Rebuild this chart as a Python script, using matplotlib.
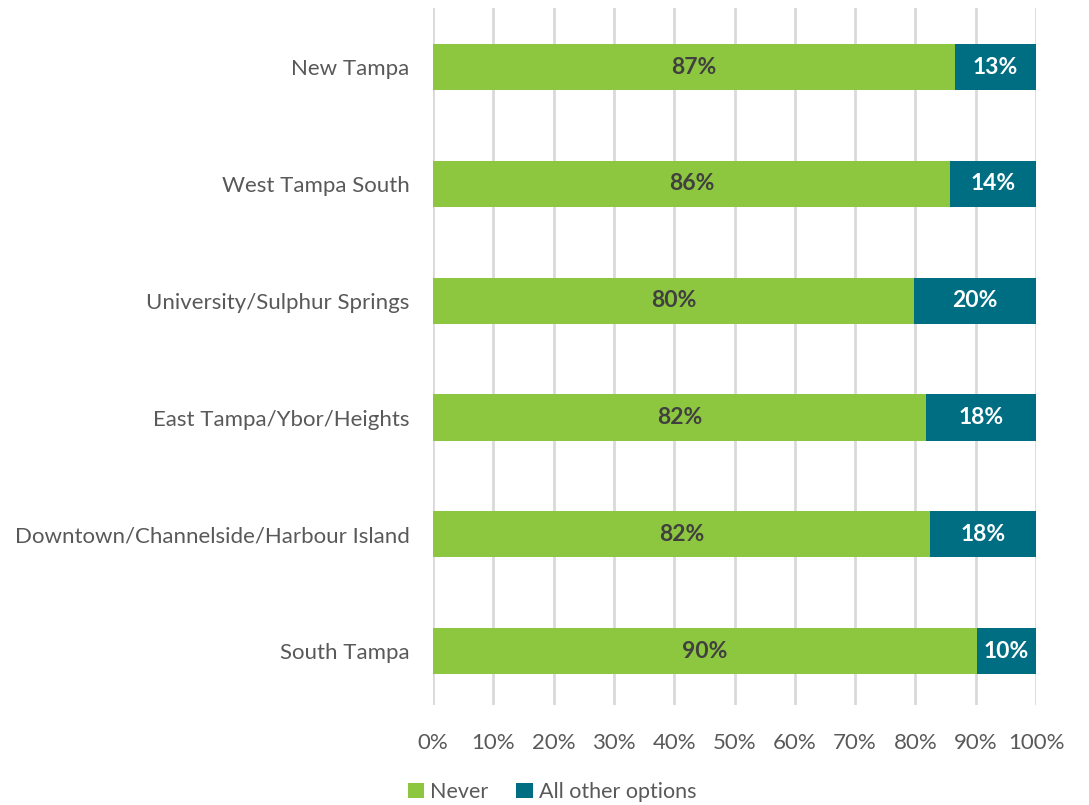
import matplotlib
matplotlib.use('Agg')
import matplotlib.pyplot as plt
import numpy as np

plt.rcParams['font.family'] = ['Lato', 'DejaVu Sans']

# data (bottom to top)
regions = ['South Tampa', 'Downtown/Channelside/Harbour Island', 'East Tampa/Ybor/Heights',
           'University/Sulphur Springs', 'West Tampa South', 'New Tampa']
never = [90.2, 82.4, 81.8, 79.8, 85.7, 86.6]
never_labels = ['90%', '82%', '82%', '80%', '86%', '87%']
other_labels = ['10%', '18%', '18%', '20%', '14%', '13%']
other = [100 - v for v in never]

green = '#8DC63F'
teal = '#006E82'
grey = '#595959'

fig = plt.figure(figsize=(10.89, 8.05), dpi=100)
ax = fig.add_axes([433 / 1089, 1 - 705 / 805, 603 / 1089, 697 / 805])

y = np.arange(len(regions))
ax.barh(y, never, height=0.395, color=green, label='Never', zorder=3)
ax.barh(y, other, left=never, height=0.395, color=teal, label='All other options', zorder=3)

for i in range(len(regions)):
    ax.text(never[i] / 2, y[i], never_labels[i], ha='center', va='center',
            fontsize=16.5, fontweight='bold', color='#404040', zorder=4)
    ax.text(never[i] + other[i] / 2, y[i], other_labels[i], ha='center', va='center',
            fontsize=16.5, fontweight='bold', color='white', zorder=4)

ax.set_xlim(0, 100)
ax.set_ylim(-0.46, 5.505)
ax.set_xticks(np.arange(0, 101, 10))
ax.set_xticklabels([f'{v}%' for v in range(0, 101, 10)])
ax.set_yticks(y)
ax.set_yticklabels(regions)
ax.tick_params(axis='both', length=0, labelsize=16, labelcolor=grey)
ax.tick_params(axis='x', pad=20)
ax.tick_params(axis='y', pad=17)
ax.grid(axis='x', color='#D9D9D9', linewidth=2, zorder=0)
for s in ax.spines.values():
    s.set_visible(False)

ax.legend(loc='center', bbox_to_anchor=(552 / 1089, 1 - 792 / 805), bbox_transform=fig.transFigure,
          ncol=2, frameon=False, fontsize=15.5, labelcolor=grey, handlelength=0.75, handleheight=0.75,
          handletextpad=0.3, columnspacing=1.3)

fig.savefig('out.png', dpi=100)
